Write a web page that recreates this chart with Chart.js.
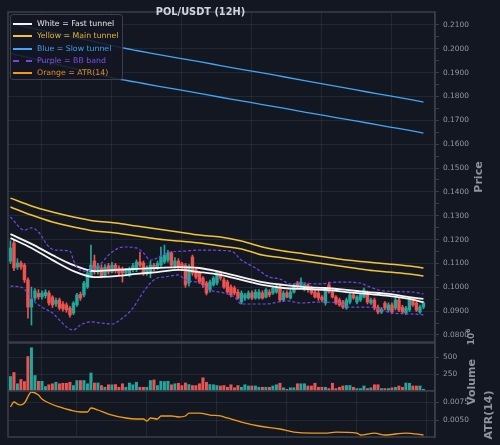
<!DOCTYPE html>
<html>
<head>
<meta charset="utf-8">
<script src="https://cdn.jsdelivr.net/npm/chart.js@4.4.1/dist/chart.umd.min.js"></script>
<style>
  html, body { margin: 0; padding: 0; background: #131722; }
  #wrap { position: relative; width: 500px; height: 445px; overflow: hidden; background: #131722; font-family: 'DejaVu Sans', sans-serif; }
  canvas { position: absolute; left: 0; }
  .title { position: absolute; left: 200.5px; top: 11px; transform: translate(-50%, -50%); font-size: 9.8px; font-weight: bold; color: #d1d4dc; white-space: nowrap; }
  .vlabel { position: absolute; transform: translate(-50%, -50%) rotate(-90deg); white-space: nowrap; font-weight: bold; font-size: 11px; color: #8f939c; }
  #legend { position: absolute; left: 10px; top: 14px; width: 113px; height: 66px; box-sizing: border-box; background: rgba(19, 23, 34, 0.88); border: 1px solid #3a3f4b; border-radius: 3px; }
  #legend .row { position: absolute; left: 0; height: 10px; width: 111px; font-size: 7.8px; line-height: 10px; white-space: nowrap; }
  #legend .sw { position: absolute; left: 2px; top: 4px; width: 19px; height: 0; }
  #legend .txt { position: absolute; left: 26px; top: 0; }
</style>
</head>
<body>
<div id="wrap">
  <canvas id="priceChart" width="500" height="343" style="top:0px"></canvas>
  <canvas id="volumeChart" width="500" height="49" style="top:342px"></canvas>
  <canvas id="atrChart" width="500" height="48" style="top:390px"></canvas>

  <div class="title">POL/USDT (12H)</div>

  <div id="legend">
    <div class="row" style="top:3.7px"><span class="sw" style="border-top:2px solid #f5f5f5"></span><span class="txt" style="color:#e6e6e6">White = Fast tunnel</span></div>
    <div class="row" style="top:16.1px"><span class="sw" style="border-top:2px solid #f4c430"></span><span class="txt" style="color:#e3b92e">Yellow = Main tunnel</span></div>
    <div class="row" style="top:28.5px"><span class="sw" style="border-top:2px solid #42a5f5"></span><span class="txt" style="color:#3f9fe8">Blue = Slow tunnel</span></div>
    <div class="row" style="top:40.9px"><span class="sw" style="border-top:2px dashed #7048e8"></span><span class="txt" style="color:#7a52e6">Purple = BB band</span></div>
    <div class="row" style="top:53.3px"><span class="sw" style="border-top:2px solid #f39c12"></span><span class="txt" style="color:#de9020">Orange = ATR(14)</span></div>
  </div>

  <div class="vlabel" style="left:477.5px; top:177px">Price</div>
  <div class="vlabel" style="left:470px; top:337px; font-size:9px">10<sup style="font-size:6px">6</sup></div>
  <div class="vlabel" style="left:471px; top:382px">Volume</div>
  <div class="vlabel" style="left:487.5px; top:415px">ATR(14)</div>
</div>

<script>
// candles, one per 12h bar (index 0..118)
const candleOpen = [
  0.1110, 0.1186, 0.1085, 0.1102, 0.1093, 0.1031, 0.0917, 0.0955, 0.0975, 0.0960,
  0.0965, 0.0976, 0.0959, 0.0930, 0.0947, 0.0930, 0.0926, 0.0913, 0.0892, 0.0926,
  0.0970, 0.0968, 0.1001, 0.1050, 0.1110, 0.1064, 0.1081, 0.1050, 0.1090, 0.1064,
  0.1093, 0.1080, 0.1075, 0.1060, 0.1052, 0.1073, 0.1073, 0.1106, 0.1102, 0.1060,
  0.1060, 0.1093, 0.1081, 0.1093, 0.1106, 0.1114, 0.1144, 0.1090, 0.1110, 0.1098,
  0.1093, 0.1018, 0.1127, 0.1073, 0.1060, 0.1039, 0.1018, 0.0989, 0.1010, 0.1018,
  0.1060, 0.1031, 0.1022, 0.1001, 0.0997, 0.0980, 0.0938, 0.0955, 0.0955, 0.0976,
  0.0955, 0.0955, 0.0976, 0.0959, 0.0980, 0.0976, 0.0980, 0.1001, 0.0947, 0.0976,
  0.0955, 0.0980, 0.1018, 0.1001, 0.0989, 0.1010, 0.0997, 0.0980, 0.0976, 0.0959,
  0.0934, 0.1010, 0.0980, 0.0959, 0.0947, 0.0938, 0.0913, 0.0938, 0.0968, 0.0938,
  0.0947, 0.0959, 0.0976, 0.0934, 0.0947, 0.0917, 0.0896, 0.0934, 0.0905, 0.0926,
  0.0913, 0.0947, 0.0917, 0.0892, 0.0905, 0.0947, 0.0934, 0.0896, 0.0917
];
const candleHigh = [
  0.1195, 0.1200, 0.1120, 0.1110, 0.1100, 0.1040, 0.1001, 0.0995, 0.0990, 0.0985,
  0.0990, 0.0985, 0.0965, 0.0955, 0.0955, 0.0940, 0.0935, 0.0920, 0.0940, 0.0975,
  0.0980, 0.1025, 0.1070, 0.1177, 0.1135, 0.1100, 0.1095, 0.1095, 0.1100, 0.1105,
  0.1100, 0.1090, 0.1085, 0.1080, 0.1085, 0.1100, 0.1115, 0.1148, 0.1110, 0.1090,
  0.1110, 0.1100, 0.1110, 0.1169, 0.1177, 0.1155, 0.1150, 0.1125, 0.1120, 0.1105,
  0.1100, 0.1095, 0.1135, 0.1080, 0.1065, 0.1045, 0.1025, 0.1030, 0.1045, 0.1070,
  0.1068, 0.1040, 0.1030, 0.1010, 0.1005, 0.0990, 0.0985, 0.0975, 0.0985, 0.0985,
  0.0990, 0.0990, 0.0985, 0.0995, 0.0990, 0.1005, 0.1010, 0.1008, 0.0985, 0.0985,
  0.0990, 0.1015, 0.1025, 0.1040, 0.1018, 0.1015, 0.1005, 0.0990, 0.0985, 0.0965,
  0.0995, 0.1022, 0.0990, 0.0965, 0.0955, 0.0945, 0.0955, 0.0975, 0.0975, 0.0965,
  0.0975, 0.0997, 0.0985, 0.0955, 0.0955, 0.0925, 0.0915, 0.0940, 0.0935, 0.0935,
  0.0955, 0.0955, 0.0925, 0.0920, 0.0955, 0.0955, 0.0940, 0.0925, 0.0940
];
const candleLow = [
  0.1100, 0.1070, 0.1075, 0.1075, 0.1020, 0.0871, 0.0842, 0.0945, 0.0950, 0.0950,
  0.0955, 0.0925, 0.0915, 0.0920, 0.0905, 0.0900, 0.0895, 0.0875, 0.0885, 0.0920,
  0.0945, 0.0960, 0.0995, 0.1045, 0.1055, 0.1055, 0.1040, 0.1045, 0.1055, 0.1060,
  0.1060, 0.1050, 0.1022, 0.1050, 0.1045, 0.1065, 0.1065, 0.1085, 0.1050, 0.1050,
  0.1040, 0.1070, 0.1075, 0.1085, 0.1100, 0.1105, 0.1085, 0.1080, 0.1075, 0.1070,
  0.1000, 0.1005, 0.1050, 0.1035, 0.1015, 0.1000, 0.0968, 0.0980, 0.1005, 0.1010,
  0.1030, 0.0995, 0.0975, 0.0960, 0.0968, 0.0950, 0.0930, 0.0945, 0.0950, 0.0948,
  0.0950, 0.0950, 0.0950, 0.0955, 0.0960, 0.0970, 0.0975, 0.0940, 0.0940, 0.0955,
  0.0950, 0.0975, 0.0995, 0.0997, 0.0985, 0.0980, 0.0970, 0.0955, 0.0945, 0.0940,
  0.0925, 0.0975, 0.0955, 0.0928, 0.0920, 0.0910, 0.0908, 0.0930, 0.0950, 0.0930,
  0.0940, 0.0955, 0.0930, 0.0928, 0.0905, 0.0888, 0.0890, 0.0905, 0.0898, 0.0890,
  0.0905, 0.0898, 0.0890, 0.0885, 0.0898, 0.0920, 0.0898, 0.0890, 0.0910
];
const candleClose = [
  0.1165, 0.1081, 0.1102, 0.1085, 0.1031, 0.0917, 0.0950, 0.0985, 0.0960, 0.0975,
  0.0980, 0.0934, 0.0926, 0.0945, 0.0913, 0.0909, 0.0905, 0.0884, 0.0934, 0.0968,
  0.0955, 0.1018, 0.1060, 0.1093, 0.1064, 0.1090, 0.1047, 0.1085, 0.1064, 0.1093,
  0.1068, 0.1060, 0.1060, 0.1070, 0.1073, 0.1090, 0.1106, 0.1093, 0.1060, 0.1080,
  0.1093, 0.1081, 0.1100, 0.1127, 0.1135, 0.1144, 0.1093, 0.1110, 0.1085, 0.1080,
  0.1010, 0.1085, 0.1060, 0.1043, 0.1022, 0.1010, 0.0976, 0.1022, 0.1039, 0.1064,
  0.1039, 0.1001, 0.0980, 0.0968, 0.0976, 0.0955, 0.0976, 0.0968, 0.0976, 0.0955,
  0.0980, 0.0980, 0.0955, 0.0989, 0.0968, 0.0997, 0.1001, 0.0947, 0.0976, 0.0959,
  0.0980, 0.1010, 0.1001, 0.1022, 0.1010, 0.0989, 0.0976, 0.0959, 0.0955, 0.0947,
  0.0989, 0.0980, 0.0959, 0.0934, 0.0926, 0.0917, 0.0947, 0.0968, 0.0955, 0.0959,
  0.0968, 0.0989, 0.0938, 0.0947, 0.0913, 0.0896, 0.0909, 0.0913, 0.0926, 0.0896,
  0.0947, 0.0905, 0.0896, 0.0913, 0.0947, 0.0926, 0.0905, 0.0917, 0.0934
];
// volume per bar, in units of 10^6
const volumeM = [
  221, 279, 113, 176, 147, 515, 642, 235, 152, 152,
  74, 98, 113, 137, 113, 123, 123, 137, 88, 162,
  162, 162, 113, 274, 127, 127, 88, 64, 98, 98,
  103, 64, 113, 64, 127, 98, 137, 64, 64, 64,
  162, 171, 88, 152, 147, 152, 98, 113, 123, 88,
  127, 103, 88, 88, 113, 201, 137, 103, 98, 88,
  83, 88, 64, 98, 54, 88, 64, 98, 83, 83,
  83, 64, 64, 64, 64, 83, 98, 123, 54, 34,
  54, 54, 113, 113, 113, 83, 83, 123, 64, 64,
  64, 44, 123, 44, 64, 83, 88, 88, 64, 44,
  44, 83, 44, 54, 98, 98, 44, 44, 44, 54,
  64, 83, 64, 127, 123, 83, 83, 83, 34
];

// tunnels, read every 6 bars
const lineIdx = [0, 6, 12, 18, 24, 30, 36, 42, 48, 54, 60, 66, 72, 78, 84, 90, 96, 102, 108, 114, 118];
const fastUpper = [0.1223, 0.1182, 0.1135, 0.1093, 0.1068, 0.1073, 0.1077, 0.1081, 0.1085, 0.1081, 0.1064, 0.1043, 0.1022, 0.1010, 0.1001, 0.0997, 0.0989, 0.0980, 0.0972, 0.0959, 0.0951];
const fastLower = [0.1207, 0.1165, 0.1114, 0.1068, 0.1043, 0.1047, 0.1056, 0.1064, 0.1073, 0.1064, 0.1052, 0.1031, 0.1010, 0.0997, 0.0993, 0.0989, 0.0980, 0.0972, 0.0964, 0.0951, 0.0938];
const mainUpper = [0.1374, 0.1341, 0.1316, 0.1295, 0.1278, 0.1270, 0.1257, 0.1244, 0.1232, 0.1219, 0.1211, 0.1194, 0.1169, 0.1152, 0.1140, 0.1127, 0.1114, 0.1106, 0.1098, 0.1089, 0.1081];
const mainLower = [0.1337, 0.1303, 0.1274, 0.1253, 0.1236, 0.1228, 0.1215, 0.1203, 0.1194, 0.1186, 0.1173, 0.1161, 0.1135, 0.1123, 0.1110, 0.1098, 0.1085, 0.1073, 0.1064, 0.1056, 0.1047];
const slowUpper = [0.2107, 0.2087, 0.2068, 0.2049, 0.2030, 0.2010, 0.1993, 0.1977, 0.1961, 0.1946, 0.1930, 0.1914, 0.1899, 0.1883, 0.1867, 0.1851, 0.1835, 0.1819, 0.1804, 0.1788, 0.1777];
const slowLower = [0.1980, 0.1960, 0.1939, 0.1918, 0.1897, 0.1876, 0.1860, 0.1844, 0.1829, 0.1813, 0.1797, 0.1782, 0.1766, 0.1751, 0.1735, 0.1720, 0.1704, 0.1689, 0.1673, 0.1658, 0.1647];

// bollinger band edges
const bbUpperIdx = [0, 4, 6, 8, 11, 13, 17, 18, 19, 21, 23, 26, 28, 31, 33, 36, 38, 40, 44, 46, 50, 54, 63, 66, 70, 74, 77, 80, 83, 88, 94, 100, 102, 107, 115, 118];
const bbUpper = [0.1295, 0.1240, 0.1249, 0.1232, 0.1169, 0.1156, 0.1152, 0.1114, 0.1085, 0.1068, 0.1073, 0.1102, 0.1135, 0.1165, 0.1169, 0.1165, 0.1144, 0.1114, 0.1140, 0.1148, 0.1152, 0.1156, 0.1152, 0.1114, 0.1081, 0.1043, 0.1035, 0.1014, 0.1018, 0.1014, 0.1022, 0.1018, 0.1005, 0.0984, 0.0980, 0.0972];
const bbLowerIdx = [0, 3, 5, 7, 9, 12, 14, 16, 18, 20, 23, 26, 29, 32, 35, 37, 40, 42, 44, 48, 50, 54, 57, 61, 64, 66, 73, 79, 83, 88, 94, 97, 103, 106, 109, 115, 118];
const bbLower = [0.1005, 0.1001, 0.0976, 0.0938, 0.0917, 0.0892, 0.0863, 0.0834, 0.0821, 0.0842, 0.0855, 0.0850, 0.0846, 0.0871, 0.0913, 0.0959, 0.1018, 0.1039, 0.1043, 0.1052, 0.1031, 0.1018, 0.0989, 0.0976, 0.0959, 0.0930, 0.0930, 0.0943, 0.0934, 0.0938, 0.0934, 0.0917, 0.0917, 0.0905, 0.0892, 0.0888, 0.0884];

// ATR(14)
const atrIdx = [0, 1, 2, 3, 4, 6, 8, 9, 11, 14, 17, 20, 22, 23, 25, 28, 33, 36, 38, 39, 40, 42, 43, 46, 48, 50, 51, 54, 57, 60, 62, 66, 71, 77, 81, 86, 90, 93, 99, 100, 104, 107, 113, 118];
const atrVal = [0.00681, 0.00750, 0.00722, 0.00709, 0.00736, 0.00889, 0.00848, 0.00792, 0.00736, 0.00681, 0.00639, 0.00611, 0.00611, 0.00667, 0.00639, 0.00583, 0.00528, 0.00514, 0.00514, 0.00486, 0.00528, 0.00514, 0.00556, 0.00556, 0.00542, 0.00556, 0.00597, 0.00597, 0.00569, 0.00556, 0.00528, 0.00472, 0.00417, 0.00375, 0.00333, 0.00319, 0.00319, 0.00333, 0.00319, 0.00292, 0.00319, 0.00292, 0.00319, 0.00292];

// axis ticks
const priceTicks = [0.08, 0.09, 0.10, 0.11, 0.12, 0.13, 0.14, 0.15, 0.16, 0.17, 0.18, 0.19, 0.20, 0.21];
const volumeTicks = [250, 500];
const atrTicks = [0.005, 0.0075];
const xGridIdx = [19, 39, 59, 79, 99, 119];

const FONT = "'DejaVu Sans', sans-serif";
const GRID = 'rgba(255, 255, 255, 0.07)';
const SPINE = '#3a3f4b';
const TICK_TXT = '#9598a1';
const UP = '#26a69a';
const DOWN = '#ef5350';
const X_MIN = -0.7, X_MAX = 121.3;

const pts = (idx, vals) => idx.map((x, k) => ({ x: x, y: vals[k] }));
const dirColors = candleOpen.map((o, i) => candleClose[i] >= o ? UP : DOWN);

// frame around each panel
const spinePlugin = {
    id: 'spines',
    afterDraw(chart) {
        const { ctx, chartArea: a } = chart;
        ctx.save();
        ctx.strokeStyle = SPINE;
        ctx.lineWidth = 1.5;
        ctx.strokeRect(a.left, a.top, a.right - a.left, a.bottom - a.top);
        ctx.restore();
    }
};

function xScale() {
    return {
        type: 'linear',
        min: X_MIN,
        max: X_MAX,
        offset: false,
        afterBuildTicks: s => { s.ticks = xGridIdx.map(v => ({ value: v })); },
        ticks: { display: false },
        grid: { color: GRID, drawTicks: false },
        border: { display: false },
        afterFit: s => { s.height = 0; }
    };
}

function yScale(min, max, tickVals, fmt, isMajor) {
    return {
        position: 'right',
        min: min,
        max: max,
        afterBuildTicks: s => { s.ticks = tickVals.map(v => ({ value: v })); },
        ticks: {
            color: TICK_TXT,
            font: { family: FONT, size: 7.4 },
            padding: 4,
            autoSkip: false,
            callback: v => isMajor(v) ? fmt(v) : ''
        },
        grid: {
            color: c => (c.tick && isMajor(c.tick.value)) ? GRID : 'rgba(0,0,0,0)',
            tickColor: SPINE,
            tickLength: 4
        },
        border: { display: true, color: SPINE, width: 1.5 },
        afterFit: s => { s.width = 65; s.paddingTop = 0; s.paddingBottom = 0; }
    };
}

const baseOptions = (padTop, padBottom) => ({
    responsive: false,
    animation: false,
    events: [],
    devicePixelRatio: 1,
    layout: { padding: { left: 8, right: 0, top: padTop, bottom: padBottom } },
    plugins: { legend: { display: false }, tooltip: { enabled: false } }
});

// 1. Price panel: candles + tunnels + BB
const priceAll = [];
priceTicks.forEach((v, k) => {
    priceAll.push(v);
    if (k < priceTicks.length - 1) priceAll.push((v + priceTicks[k + 1]) / 2);
});
const isPriceMajor = v => priceTicks.some(t => Math.abs(t - v) < 1e-7);

const lineStyle = (color, width, order) => ({
    type: 'line', borderColor: color, borderWidth: width, pointRadius: 0,
    cubicInterpolationMode: 'monotone', order: order
});

new Chart(document.getElementById('priceChart'), {
    type: 'bar',
    data: {
        datasets: [
            Object.assign(lineStyle('#7048e8', 1.2, 0), { data: pts(bbUpperIdx, bbUpper), borderDash: [3, 2] }),
            Object.assign(lineStyle('#7048e8', 1.2, 0), { data: pts(bbLowerIdx, bbLower), borderDash: [3, 2] }),
            Object.assign(lineStyle('#f5f5f5', 1.8, 1), { data: pts(lineIdx, fastUpper) }),
            Object.assign(lineStyle('#f5f5f5', 1.8, 1), { data: pts(lineIdx, fastLower) }),
            Object.assign(lineStyle('#f4c430', 1.5, 2), { data: pts(lineIdx, mainUpper) }),
            Object.assign(lineStyle('#f4c430', 1.5, 2), { data: pts(lineIdx, mainLower) }),
            Object.assign(lineStyle('#42a5f5', 1.3, 3), { data: pts(lineIdx, slowUpper) }),
            Object.assign(lineStyle('#42a5f5', 1.3, 3), { data: pts(lineIdx, slowLower) }),
            {
                type: 'bar',
                data: candleOpen.map((o, i) => ({ x: i, y: [o, candleClose[i]] })),
                backgroundColor: dirColors,
                barThickness: 2.8,
                grouped: false,
                borderWidth: 0,
                order: 4
            },
            {
                type: 'bar',
                data: candleLow.map((l, i) => ({ x: i, y: [l, candleHigh[i]] })),
                backgroundColor: dirColors,
                barThickness: 1,
                grouped: false,
                borderWidth: 0,
                order: 5
            }
        ]
    },
    options: Object.assign(baseOptions(12, 1), {
        scales: {
            x: xScale(),
            y: yScale(0.07706, 0.21545, priceAll, v => v.toFixed(4), isPriceMajor)
        }
    }),
    plugins: [spinePlugin]
});

// 2. Volume panel
new Chart(document.getElementById('volumeChart'), {
    type: 'bar',
    data: {
        datasets: [{
            data: volumeM.map((v, i) => ({ x: i, y: v })),
            backgroundColor: dirColors,
            borderColor: '#1b2433',
            borderWidth: 0.6,
            barThickness: 3.5,
            grouped: false
        }]
    },
    options: Object.assign(baseOptions(1, 0), {
        scales: {
            x: xScale(),
            y: yScale(0, 706, volumeTicks, v => String(v), () => true)
        }
    }),
    plugins: [spinePlugin]
});

// 3. ATR panel
new Chart(document.getElementById('atrChart'), {
    type: 'line',
    data: {
        datasets: [Object.assign(lineStyle('#f39c12', 1.3, 0), { data: pts(atrIdx, atrVal) })]
    },
    options: Object.assign(baseOptions(1, 1), {
        scales: {
            x: xScale(),
            y: yScale(0.00264, 0.00903, atrTicks, v => v.toFixed(4), () => true)
        }
    }),
    plugins: [spinePlugin]
});
</script>
</body>
</html>
